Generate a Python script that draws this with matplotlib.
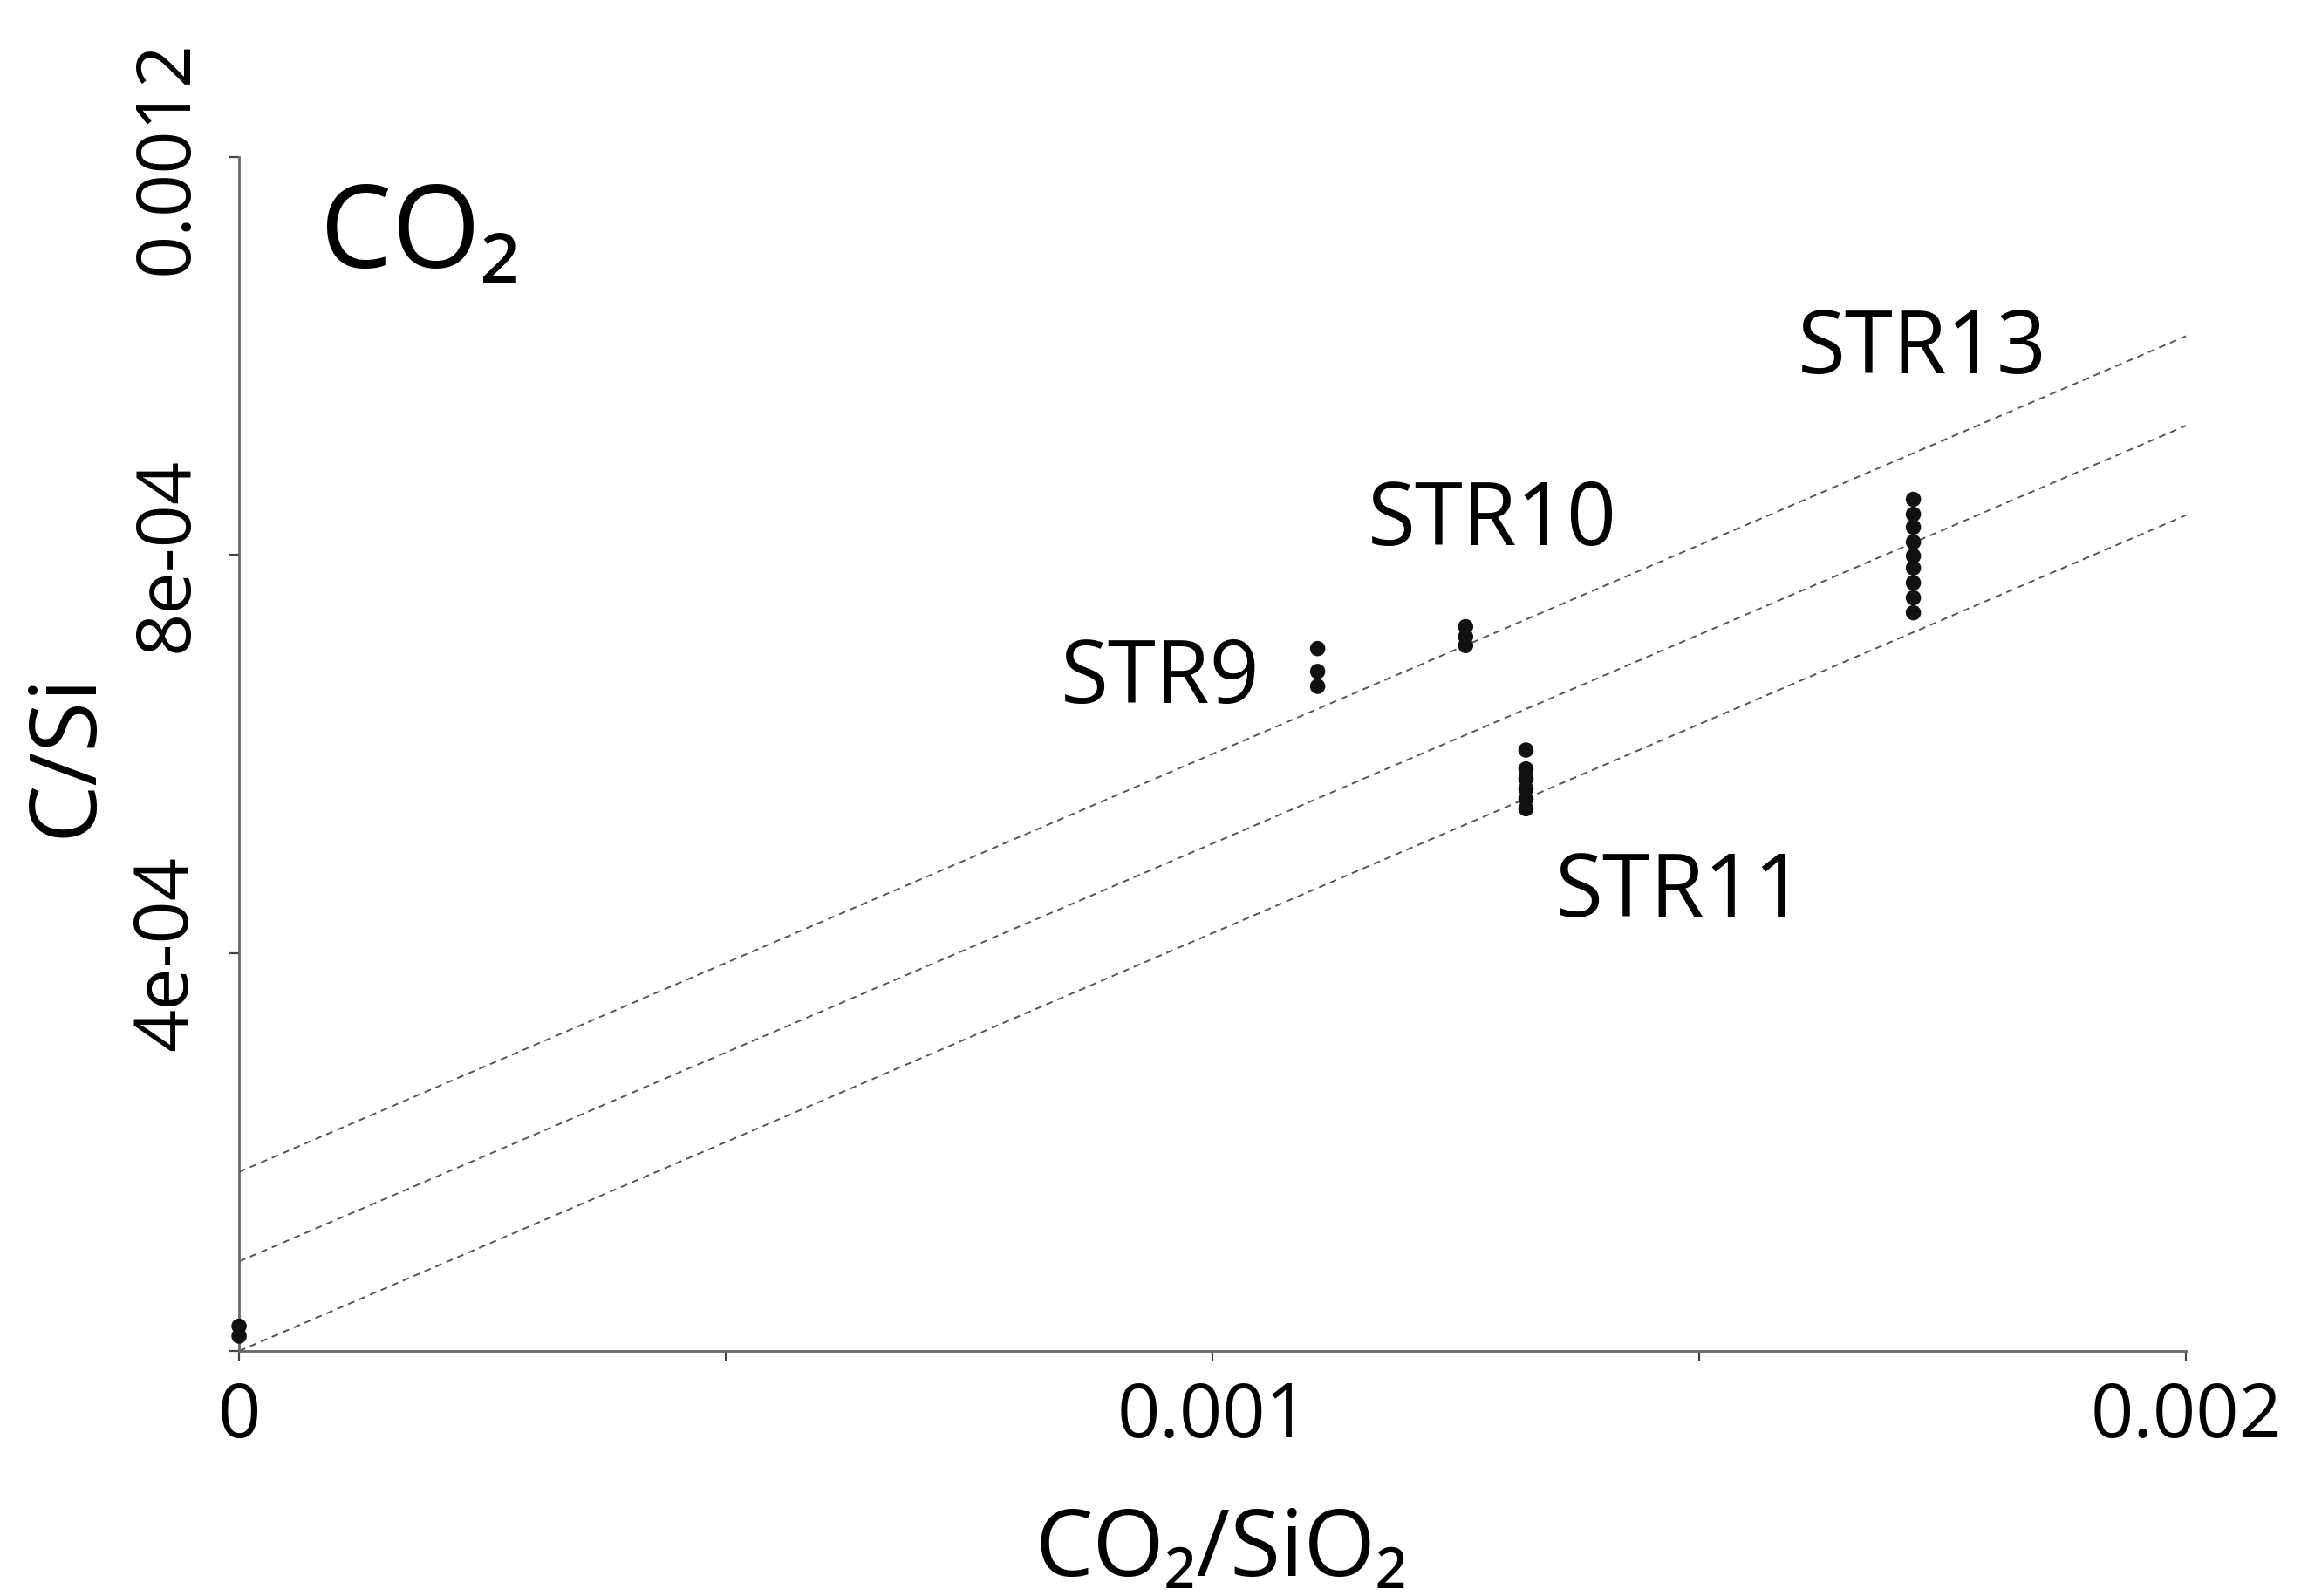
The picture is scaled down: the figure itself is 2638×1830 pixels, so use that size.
import numpy as np
import matplotlib

matplotlib.use("Agg")
import matplotlib.pyplot as plt

plt.rcParams["font.family"] = ["Open Sans", "DejaVu Sans"]

# samples: CO2/SiO2 (x) against C/Si (y)
STR9_X = [0.001108, 0.001108, 0.001108]
STR9_Y = [7.06e-4, 6.83e-4, 6.68e-4]
STR10_X = [0.001260, 0.001260, 0.001260]
STR10_Y = [7.28e-4, 7.18e-4, 7.09e-4]
STR11_X = [0.001322] * 6
STR11_Y = [6.04e-4, 5.85e-4, 5.75e-4, 5.65e-4, 5.55e-4, 5.45e-4]
STR13_X = [0.001720] * 9
STR13_Y = [8.56e-4, 8.41e-4, 8.28e-4, 8.13e-4, 7.99e-4, 7.87e-4, 7.72e-4, 7.57e-4, 7.42e-4]
BLANK_X = [0.0, 0.0]
BLANK_Y = [1.5e-5, 2.5e-5]

# reference lines y = slope * x + intercept
LINE_SLOPE = 0.42
LINE_INTERCEPTS = [1.8e-4, 0.9e-4, 0.0]

SAMPLE_LABELS = ["STR9", "STR10", "STR11", "STR13"]
LABEL_POS = [(0.000844, 6.51e-4), (0.001159, 8.10e-4), (0.001352, 4.37e-4), (0.001601, 9.83e-4)]

XTICKS = [0, 0.0005, 0.001, 0.0015, 0.002]
XTICK_LABELS = ["0", "", "0.001", "", "0.002"]
YTICKS = [0, 0.0004, 0.0008, 0.0012]
YTICK_LABELS = ["", "4e-04", "8e-04", "0.0012"]


def main():
    fig = plt.figure(figsize=(13.19, 9.15), dpi=200)
    ax = fig.add_axes([0.1039, 0.1535, 0.8461, 0.7481])

    x_line = np.array([0.0, 0.002])
    for b in LINE_INTERCEPTS:
        ax.plot(x_line, LINE_SLOPE * x_line + b, linestyle=(0, (4, 3)),
                color="#555555", linewidth=0.7, clip_on=False)

    for xs, ys in [(STR9_X, STR9_Y), (STR10_X, STR10_Y), (STR11_X, STR11_Y),
                   (STR13_X, STR13_Y), (BLANK_X, BLANK_Y)]:
        ax.scatter(xs, ys, s=40, color="#111111", edgecolors="none",
                   zorder=3, clip_on=False)

    for name, (tx, ty) in zip(SAMPLE_LABELS, LABEL_POS):
        ax.text(tx, ty, name, fontsize=36, va="baseline", ha="left")

    ax.text(8.3e-5, 10.89e-4, "CO\u2082", fontsize=47, va="baseline", ha="left")

    ax.set_xlim(0, 0.002)
    ax.set_ylim(0, 0.0012)
    ax.set_xticks(XTICKS)
    ax.set_xticklabels(XTICK_LABELS, fontsize=31)
    ax.set_yticks(YTICKS)
    ax.set_yticklabels(YTICK_LABELS, fontsize=31, rotation=90, va="center")

    for side in ["top", "right"]:
        ax.spines[side].set_visible(False)
    for side in ["left", "bottom"]:
        ax.spines[side].set_color("#666666")
        ax.spines[side].set_linewidth(1.0)
    ax.tick_params(axis="both", length=4, width=0.8, color="#444444")
    ax.tick_params(axis="x", pad=8)
    ax.tick_params(axis="y", pad=10)

    fig.text(0.531, 0.028, "CO\u2082/SiO\u2082", fontsize=38, ha="center", va="center")
    fig.text(0.029, 0.527, "C/Si", fontsize=38, ha="center", va="center", rotation=90)

    fig.savefig("out.png", dpi=200, facecolor="white")
    plt.close(fig)


if __name__ == "__main__":
    main()
